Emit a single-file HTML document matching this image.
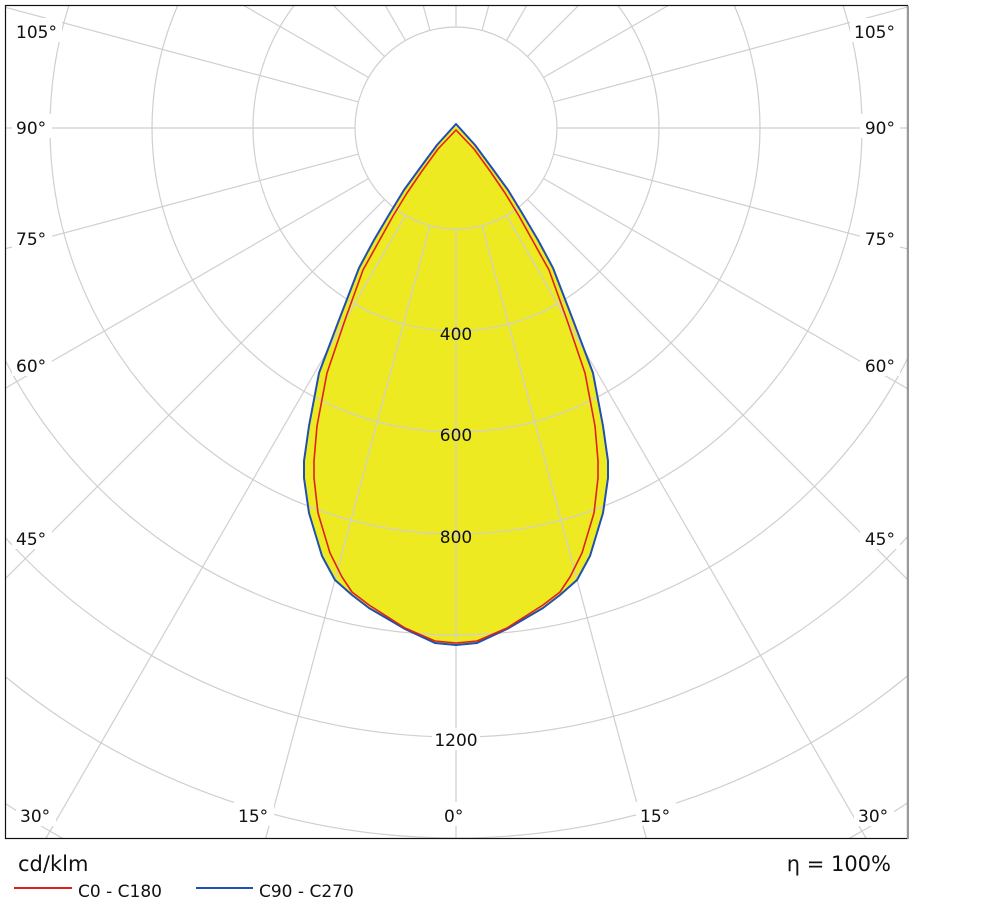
<!DOCTYPE html>
<html><head><meta charset="utf-8"><style>
html,body{margin:0;padding:0;background:#fff;overflow:hidden;}
svg{display:block;}
text{font-family:"DejaVu Sans","Liberation Sans",sans-serif;font-size:17px;fill:#111;}
</style></head><body>
<svg width="999" height="912" viewBox="0 0 999 912" xmlns="http://www.w3.org/2000/svg">
<defs><clipPath id="c"><rect x="6" y="6" width="902" height="833"/></clipPath></defs>
<path fill="#eeea22" stroke="none" d="M456,126 L475,145 L492,168 L508,190 L522,213 L538,240 L553,268 L573,320 L593,373 L603,426 L608,461 L608,478 L603,513 L590,556 L577,580 L560,595 L543,608 L507,629 L477,643 L456,645 L435,643 L405,629 L369,608 L352,595 L335,580 L322,556 L309,513 L304,478 L304,461 L309,426 L319,373 L339,320 L359,268 L374,240 L390,213 L404,190 L420,168 L437,145 Z"/>
<g clip-path="url(#c)" stroke="#cfcfcf" stroke-width="1.2" fill="none">
<line x1="456" y1="229" x2="456" y2="1528"/>
<line x1="482.1" y1="225.6" x2="818.3" y2="1480.3"/><line x1="429.9" y1="225.6" x2="93.7" y2="1480.3"/>
<line x1="506.5" y1="215.5" x2="1156" y2="1340.4"/><line x1="405.5" y1="215.5" x2="-244" y2="1340.4"/>
<line x1="527.4" y1="199.4" x2="1445.9" y2="1117.9"/><line x1="384.6" y1="199.4" x2="-533.9" y2="1117.9"/>
<line x1="543.5" y1="178.5" x2="1668.4" y2="828"/><line x1="368.5" y1="178.5" x2="-756.4" y2="828"/>
<line x1="553.6" y1="154.1" x2="1808.3" y2="490.3"/><line x1="358.4" y1="154.1" x2="-896.3" y2="490.3"/>
<line x1="557" y1="128" x2="1856" y2="128"/><line x1="355" y1="128" x2="-944" y2="128"/>
<line x1="553.6" y1="101.9" x2="1808.3" y2="-234.3"/><line x1="358.4" y1="101.9" x2="-896.3" y2="-234.3"/>
<line x1="543.5" y1="77.5" x2="1668.4" y2="-572"/><line x1="368.5" y1="77.5" x2="-756.4" y2="-572"/>
<line x1="527.4" y1="56.6" x2="1445.9" y2="-861.9"/><line x1="384.6" y1="56.6" x2="-533.9" y2="-861.9"/>
<line x1="506.5" y1="40.5" x2="1156" y2="-1084.4"/><line x1="405.5" y1="40.5" x2="-244" y2="-1084.4"/>
<line x1="482.1" y1="30.4" x2="818.3" y2="-1224.3"/><line x1="429.9" y1="30.4" x2="93.7" y2="-1224.3"/>
<line x1="456" y1="27" x2="456" y2="-1272"/>
<circle cx="456" cy="128" r="101"/>
<circle cx="456" cy="128" r="203"/>
<circle cx="456" cy="128" r="304"/>
<circle cx="456" cy="128" r="406"/>
<circle cx="456" cy="128" r="507"/>
<circle cx="456" cy="128" r="609"/>
<circle cx="456" cy="128" r="710"/>
<circle cx="456" cy="128" r="812"/>
<circle cx="456" cy="128" r="913"/>
</g>
<path fill="none" stroke="#1f4fb0" stroke-width="2" stroke-linejoin="round" d="M456,124 L475,145 L492,168 L508,190 L522,213 L538,240 L553,268 L573,320 L593,373 L603,426 L608,461 L608,478 L603,513 L590,556 L577,580 L560,595 L543,608 L507,629 L477,643 L456,645 L435,643 L405,629 L369,608 L352,595 L335,580 L322,556 L309,513 L304,478 L304,461 L309,426 L319,373 L339,320 L359,268 L374,240 L390,213 L404,190 L420,168 L437,145 Z"/>
<path fill="none" stroke="#e0201c" stroke-width="1.6" stroke-linejoin="round" d="M456,130 L474,149 L490,171 L505,193 L519,216 L534,243 L549,270 L567,320 L585,373 L595,426 L598,461 L598,478 L594,513 L582,553 L570,577 L560,592 L543,605 L507,628 L477,641 L456,643 L435,641 L405,628 L369,605 L352,592 L342,577 L330,553 L318,513 L314,478 L314,461 L317,426 L327,373 L345,320 L363,270 L378,243 L393,216 L407,193 L422,171 L438,149 Z"/>
<rect x="5.5" y="5.5" width="902" height="833" fill="none" stroke="#111" stroke-width="1.2"/>
<line x1="908" y1="6" x2="908" y2="839" stroke="#999" stroke-width="2"/>
<g text-anchor="middle">
<text x="456" y="340">400</text>
<text x="456" y="441">600</text>
<text x="456" y="543">800</text>
<rect x="432" y="728" width="48" height="22" fill="#fff"/>
<text x="456" y="746">1200</text>
</g>
<g>
<rect x="12" y="18" width="50" height="24" fill="#fff"/><rect x="12" y="114" width="40" height="24" fill="#fff"/><rect x="12" y="225" width="40" height="24" fill="#fff"/><rect x="12" y="352" width="40" height="24" fill="#fff"/><rect x="12" y="525" width="40" height="24" fill="#fff"/>
<rect x="850" y="18" width="50" height="24" fill="#fff"/><rect x="860" y="114" width="40" height="24" fill="#fff"/><rect x="860" y="225" width="40" height="24" fill="#fff"/><rect x="860" y="352" width="40" height="24" fill="#fff"/><rect x="860" y="525" width="40" height="24" fill="#fff"/>
<rect x="16" y="802" width="40" height="24" fill="#fff"/><rect x="234" y="802" width="40" height="24" fill="#fff"/><rect x="442" y="802" width="28" height="24" fill="#fff"/><rect x="636" y="802" width="40" height="24" fill="#fff"/><rect x="854" y="802" width="40" height="24" fill="#fff"/>
<text x="16" y="38">105°</text><text x="16" y="134">90°</text><text x="16" y="245">75°</text><text x="16" y="372">60°</text><text x="16" y="545">45°</text>
<text x="20" y="822">30°</text><text x="238" y="822">15°</text><text x="444" y="822">0°</text><text x="640" y="822">15°</text><text x="858" y="822">30°</text>
<g text-anchor="end"><text x="895" y="38">105°</text><text x="895" y="134">90°</text><text x="895" y="245">75°</text><text x="895" y="372">60°</text><text x="895" y="545">45°</text></g>
</g>
<text x="18" y="871" style="font-size:21px">cd/klm</text>
<text x="891" y="871" text-anchor="end" style="font-size:21px">η = 100%</text>
<line x1="14" y1="888" x2="72" y2="888" stroke="#e0201c" stroke-width="2"/>
<text x="78" y="897">C0 - C180</text>
<line x1="196" y1="888" x2="253" y2="888" stroke="#1f4fb0" stroke-width="2"/>
<text x="259" y="897">C90 - C270</text>
</svg>
</body></html>
